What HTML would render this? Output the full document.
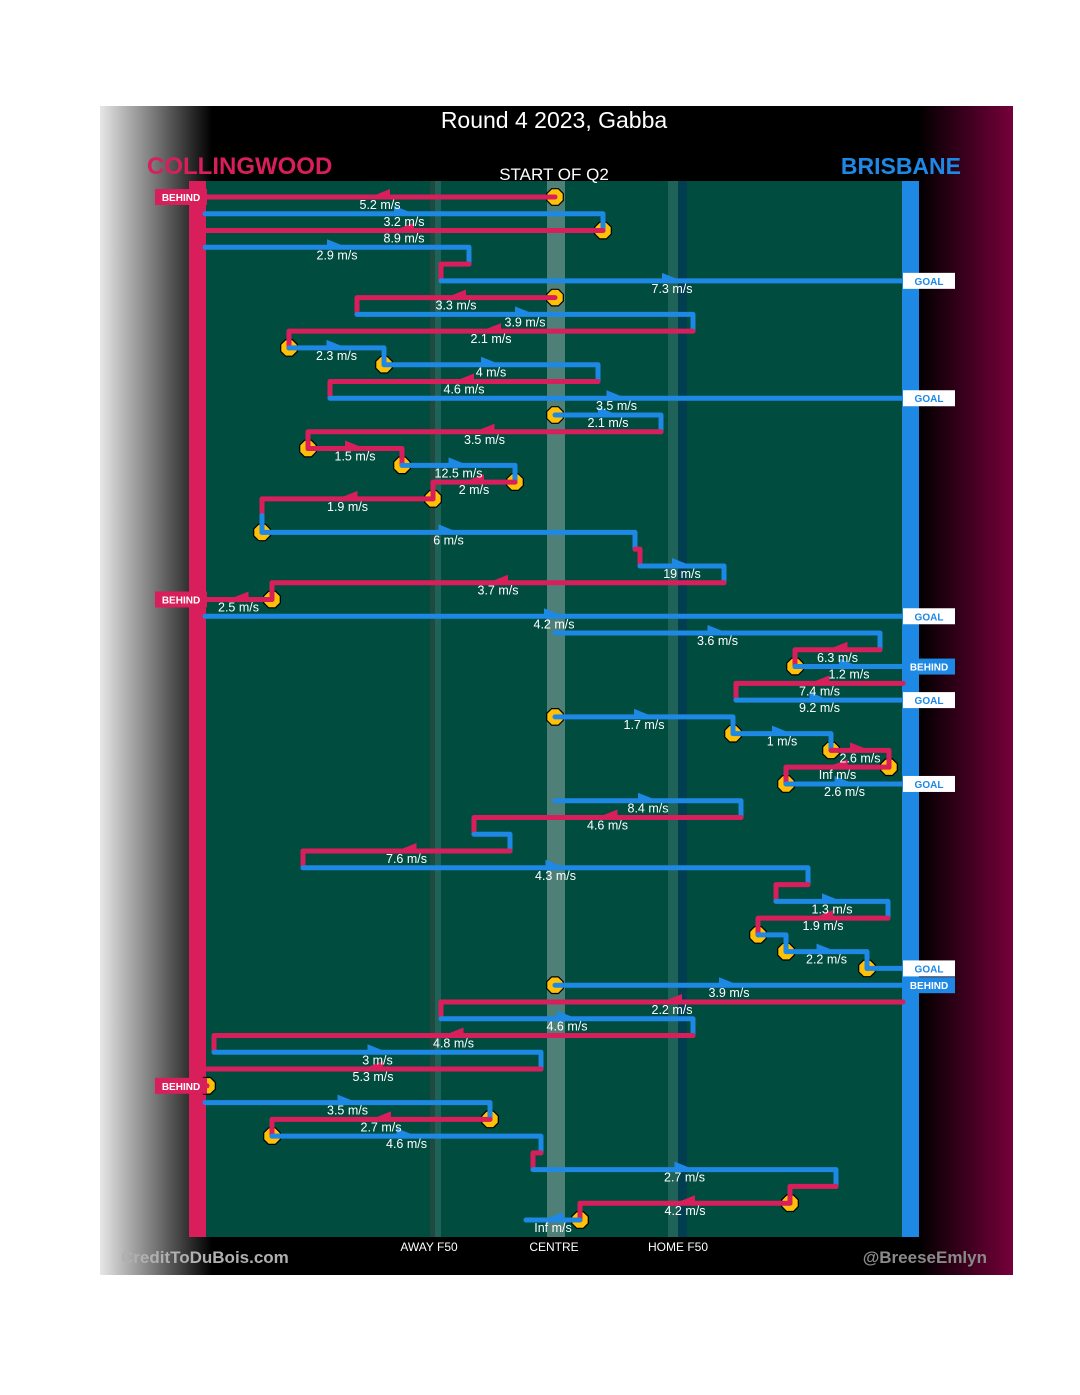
<!DOCTYPE html>
<html><head><meta charset="utf-8">
<style>
html,body{margin:0;padding:0;background:#fff;}
svg{display:block;font-family:"Liberation Sans",sans-serif;}
</style></head>
<body>
<svg id="chart" width="1080" height="1395" viewBox="0 0 1080 1395" xmlns="http://www.w3.org/2000/svg">
<defs>
<linearGradient id="lg" x1="0" x2="1" y1="0" y2="0">
<stop offset="0" stop-color="#e6e6e6"/><stop offset="0.45" stop-color="#808080"/><stop offset="1" stop-color="#000"/>
</linearGradient>
<linearGradient id="rg" x1="0" x2="1" y1="0" y2="0">
<stop offset="0" stop-color="#000"/><stop offset="1" stop-color="#76003a"/>
</linearGradient>
</defs>
<rect x="100" y="106" width="913" height="1169" fill="#000"/>
<rect x="100" y="106" width="112" height="1169" fill="url(#lg)"/>
<rect x="918" y="106" width="95" height="1169" fill="url(#rg)"/>
<rect x="198" y="181" width="705" height="1056" fill="#004d40"/>
<rect x="430" y="181" width="5" height="1056" fill="#1f4a40"/>
<rect x="435" y="181" width="6" height="1056" fill="#1f6358"/>
<rect x="547" y="181" width="18" height="1056" fill="#4f8078"/>
<rect x="668" y="181" width="10" height="1056" fill="#1f6358"/>
<rect x="678" y="181" width="9" height="1056" fill="#013f50"/>
<rect x="189" y="181" width="17" height="1056" fill="#d81e5b"/>
<rect x="902" y="181" width="17" height="1056" fill="#1e88e5"/>
<text x="554" y="128" fill="#fff" font-size="23" text-anchor="middle">Round 4 2023, Gabba</text>
<text x="147" y="174" fill="#d81e5b" font-size="24" font-weight="bold">COLLINGWOOD</text>
<text x="961" y="174" fill="#1e88e5" font-size="23" font-weight="bold" text-anchor="end">BRISBANE</text>
<text x="554" y="180" fill="#fff" font-size="17" text-anchor="middle">START OF Q2</text>
<text x="429" y="1251" fill="#fff" font-size="12" text-anchor="middle">AWAY F50</text>
<text x="554" y="1251" fill="#fff" font-size="12" text-anchor="middle">CENTRE</text>
<text x="678" y="1251" fill="#fff" font-size="12" text-anchor="middle">HOME F50</text>
<text x="121" y="1263" fill="#b0b0b0" font-size="17" font-weight="bold">CreditToDuBois.com</text>
<text x="987" y="1263" fill="#8a8a8a" font-size="17" font-weight="bold" text-anchor="end">@BreeseEmlyn</text>
<g id="chains"></g>
</svg>
<script>
// field positions measured from Collingwood goal (0) to Brisbane goal (698)
var teams = ["C","B","C","B","C","B","C","B","C","B","B","C","B","B","C","C","B","C","C","B","B","C","B","C","C","B","B","C","B","C","B","B","B","C","C","B","B","C","B","C","B","C","B","C","B","B","B","B","C","B","C","B","C","C","B","C","B","C","B","C","C","B"];
var starts = [350,0,398,0,264,236,350,152,488,84,179,393,125,350,456,103,197,310,228,57,57,430,435,519,67,0,350,675,590,698,531,350,528,626,684,581,350,536,269,305,98,603,571,683,553,581,662,350,698,236,488,9,336,2,0,285,67,336,328,631,585,375];
var ends   = [0,398,0,264,236,698,152,488,84,179,393,125,698,456,103,197,310,228,57,57,430,435,519,67,0,698,675,590,698,531,698,528,626,684,581,698,536,269,305,98,603,571,683,553,581,662,698,698,236,488,9,336,0,0,285,67,336,328,631,585,375,321];
var speeds = ["5.2","3.2","8.9","2.9","","7.3","3.3","3.9","2.1","2.3","4","4.6","3.5","2.1","3.5","1.5","12.5","2","1.9","","6","","19","3.7","2.5","4.2","3.6","6.3","1.2","7.4","9.2","1.7","1","2.6","Inf","2.6","8.4","4.6","","7.6","4.3","","1.3","1.9","","2.2","","3.9","2.2","4.6","4.8","3","5.3","","3.5","2.7","4.6","","2.7","","4.2","Inf"];
var balls  = [1,0,1,0,0,0,1,0,0,1,1,0,0,1,0,1,1,1,1,0,1,0,0,0,1,0,0,0,1,0,0,1,1,1,1,1,0,0,0,0,0,0,0,0,1,1,1,1,0,0,0,0,0,1,0,1,1,0,0,0,1,1];
var outcomes = ["BEHIND","","","","","GOAL","","","","","","","GOAL","","","","","","","","","","","","BEHIND","GOAL","","","BEHIND","","GOAL","","","","","GOAL","","","","","","","","","","","GOAL","BEHIND","","","","","","BEHIND","","","","","","","",""];

var X0 = 205, X1 = 903, D1 = 698;
function xs(v){ return X0 + v * (X1 - X0) / D1; }
var Y0 = 197, STEP = 16.77;
function ys(i){ return Y0 + i * STEP; }
var PINK = "#d81e5b", BLUE = "#1e88e5";
var NS = "http://www.w3.org/2000/svg";
var g = document.getElementById("chains");
var lineLayer = document.createElementNS(NS, "g");
var ballLayer = document.createElementNS(NS, "g");
var topLayer = document.createElementNS(NS, "g");
g.appendChild(ballLayer); g.appendChild(lineLayer); g.appendChild(topLayer);

function mk(tag, attrs, parent){
  var e = document.createElementNS(NS, tag);
  for (var k in attrs) e.setAttribute(k, attrs[k]);
  parent.appendChild(e);
  return e;
}
function hexPts(cx, cy, r){
  var p = [];
  for (var k = 0; k < 8; k++){ var a = Math.PI/8 + k*Math.PI/4; p.push((cx + r*Math.cos(a)).toFixed(1) + "," + (cy + r*Math.sin(a)).toFixed(1)); }
  return p.join(" ");
}

for (var i = 0; i < teams.length; i++){
  var col = teams[i] === "C" ? PINK : BLUE;
  var y = ys(i), xa = xs(starts[i]), xb = xs(ends[i]);
  if (balls[i]){
    var b = mk("polygon", {points: hexPts(xa, y, 9), fill: "#ffc107", stroke: "#000", "stroke-width": 1.2}, ballLayer);
    
    
  }
  var d = "M" + xa + "," + y + " L" + xb + "," + y;
  if (i + 1 < teams.length && !outcomes[i] && Math.abs(starts[i+1] - ends[i]) < 4 && ends[i] !== 0){
    d += " L" + xb + "," + ys(i+1);
  }
  var p = mk("path", {d: d, fill: "none", stroke: col, "stroke-width": 5, "stroke-linecap": "round", "stroke-linejoin": "round"}, lineLayer);
  
  
  var dir = ends[i] >= starts[i] ? 1 : -1;
  var mid = (xa + xb) / 2;
  if (speeds[i] !== ""){
    var ar = mk("polygon", {points: (mid + dir*10) + "," + y + " " + (mid - dir*10) + "," + (y - 8) + " " + (mid - dir*10) + "," + y, fill: col}, lineLayer);
    
    
    var t = mk("text", {x: mid, y: y + 12, fill: "#fff", "font-size": 12.5, "text-anchor": "middle"}, topLayer);
    t.textContent = speeds[i] + " m/s";
    
    
  }
  if (outcomes[i]){
    var gx, bg, fg;
    if (teams[i] === "C"){ gx = 155; bg = PINK; fg = "#fff"; }
    else { gx = 903; bg = outcomes[i] === "GOAL" ? "#fff" : BLUE; fg = outcomes[i] === "GOAL" ? BLUE : "#fff"; }
    var r = mk("rect", {x: gx, y: y - 8, width: 52, height: 16, fill: bg}, topLayer);
    
    
    var ot = mk("text", {x: gx + 26, y: y + 4, fill: fg, "font-size": 10, "font-weight": "bold", "text-anchor": "middle"}, topLayer);
    ot.textContent = outcomes[i];
    
    
  }
}
</script>
</body></html>
